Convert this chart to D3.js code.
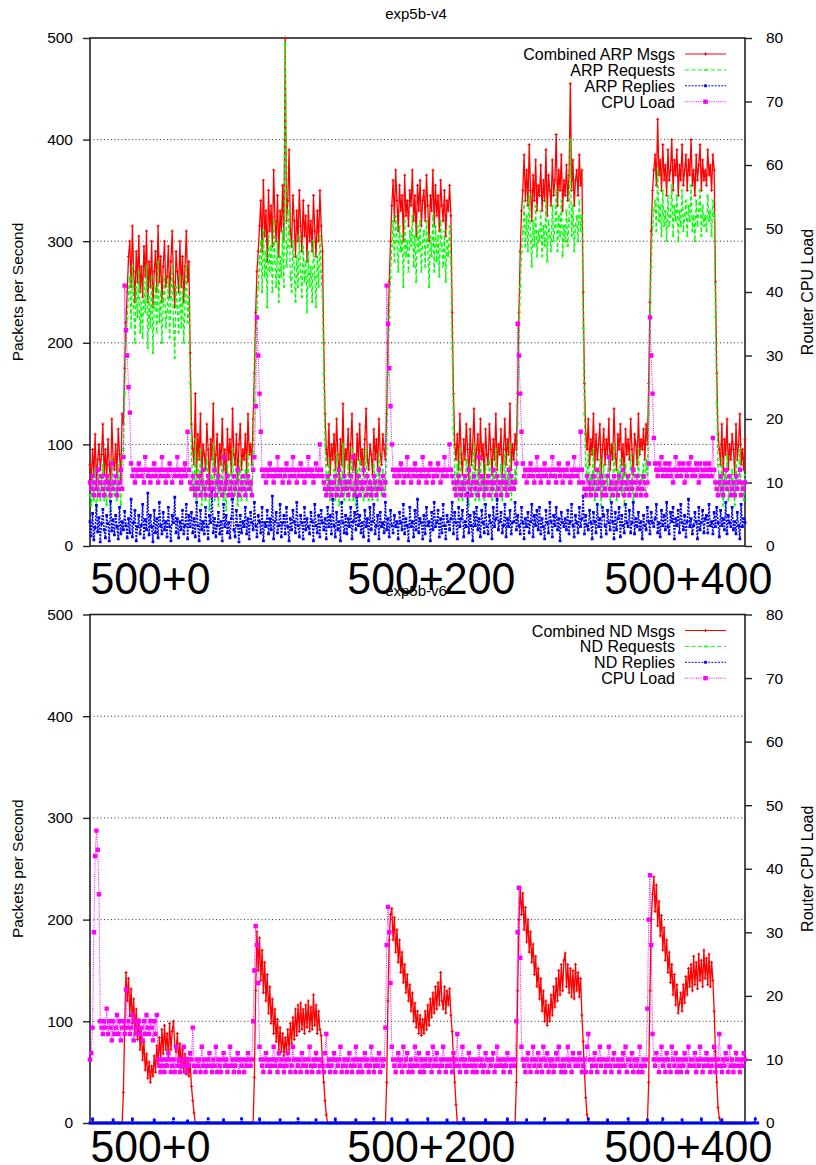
<!DOCTYPE html>
<html><head><meta charset="utf-8">
<script src="https://cdn.jsdelivr.net/npm/d3@7"></script>
<style>body{margin:0;background:#fff}svg{display:block}</style>
</head><body><div id="chart"></div>
<script>
// ---------- data (one sample per second, 0..510) ----------
const xStep = 1;
const xTickValues = [0, 200, 400];
const xTickLabels = ["500+0", "500+200", "500+400"];
const leftTicks = [0, 100, 200, 300, 400, 500];
const rightTicks = [0, 10, 20, 30, 40, 50, 60, 70, 80];
const gridValues = [100, 200, 300, 400];
const titles = ["exp5b-v4", "exp5b-v6"];
const namesV4 = ["Combined ARP Msgs", "ARP Requests", "ARP Replies", "CPU Load"];
const namesV6 = ["Combined ND Msgs", "ND Requests", "ND Replies", "CPU Load"];

const arpCombined = [
80,65,95,70,110,60,85,100,75,90,
120,70,95,65,105,80,60,125,85,75,
100,70,115,90,65,130,120,175,220,250,
285,300,255,315,270,240,290,260,305,250,
275,245,295,265,310,240,280,255,300,235,
270,290,250,315,260,285,240,275,300,255,
265,295,245,280,310,260,235,290,270,250,
300,255,285,240,275,310,260,280,190,120,
95,80,150,70,110,85,130,65,100,90,
75,120,95,60,105,85,140,70,90,110,
65,100,80,125,75,95,60,115,85,105,
70,135,90,80,110,65,100,120,75,95,
85,110,70,130,90,100,80,125,170,230,
270,290,315,340,290,360,305,330,280,350,
310,335,295,370,320,300,345,285,330,310,
355,300,500,320,340,390,310,295,345,320,
285,330,300,350,315,290,340,305,325,280,
335,300,320,290,345,310,285,330,300,350,
315,290,200,130,95,80,120,70,100,85,
110,75,125,90,65,105,80,140,70,95,
85,115,70,100,130,75,90,65,110,85,
120,80,95,70,105,135,85,75,100,90,
70,115,85,105,75,125,90,80,110,95,
85,130,200,260,300,335,360,320,370,340,
310,355,330,345,300,365,325,340,315,350,
335,370,320,345,305,355,330,360,315,340,
350,320,365,335,300,345,330,370,315,355,
325,345,310,360,335,320,350,305,340,330,
355,325,230,150,100,85,110,75,130,90,
70,105,85,120,95,65,115,80,100,135,
75,95,110,70,125,85,100,65,115,90,
80,120,95,70,105,85,130,75,100,90,
115,70,95,125,80,105,90,140,75,100,
85,110,95,150,230,290,330,350,385,340,
370,335,395,350,320,365,340,380,330,355,
345,375,330,360,340,390,325,365,350,335,
380,345,360,405,335,370,350,385,330,360,
345,375,340,365,455,350,380,335,360,370,
345,385,355,370,250,160,110,95,125,80,
105,90,130,75,110,85,100,120,70,95,
115,80,105,90,125,75,100,85,135,90,
75,110,95,120,80,100,70,115,90,105,
85,125,95,70,110,100,80,130,90,105,
95,115,85,120,100,160,240,310,350,370,
385,355,420,365,380,350,395,360,375,345,
390,360,370,400,350,380,365,390,345,375,
360,395,355,370,385,350,380,365,400,355,
370,345,385,360,375,395,350,380,360,370,
355,390,365,375,350,385,370,260,170,110,
95,80,120,70,105,90,125,75,100,85,
110,95,70,120,85,100,130,80,95,75,
105];

const arpRequests = [
50,40,65,45,75,35,55,70,45,60,
80,45,65,40,70,55,35,85,60,50,
65,45,80,60,40,90,95,150,200,225,
250,265,215,275,235,200,255,225,270,210,
240,205,260,230,275,195,245,215,265,190,
235,255,210,280,220,250,200,240,265,215,
230,260,205,245,275,220,185,255,235,210,
265,215,250,200,240,275,220,245,160,90,
60,50,105,45,75,55,95,40,65,60,
45,85,65,35,70,55,100,45,60,75,
40,65,50,90,45,60,35,80,55,70,
45,95,60,50,75,40,65,85,45,60,
55,75,45,90,60,65,50,90,140,200,
235,255,280,300,250,310,265,290,235,305,
270,295,250,320,280,255,300,240,285,265,
310,255,495,275,295,330,265,250,300,275,
240,285,255,305,270,245,295,260,280,230,
290,255,275,240,300,265,235,285,255,305,
270,245,170,100,65,50,85,45,65,55,
75,45,90,60,40,70,50,100,45,65,
55,80,45,65,95,45,60,40,75,55,
85,50,65,45,70,95,55,45,65,60,
45,80,55,70,45,90,60,50,75,65,
55,95,170,225,265,295,320,280,325,300,
270,315,290,305,255,320,285,300,270,310,
295,325,275,305,260,315,290,320,270,300,
310,275,320,295,255,305,285,325,270,315,
280,305,265,320,295,275,310,260,300,285,
315,280,195,115,70,55,80,45,95,60,
45,70,55,85,65,40,80,50,70,100,
45,65,75,45,90,55,70,40,80,60,
50,85,65,45,70,55,95,45,70,60,
80,45,65,90,50,70,60,100,45,70,
55,75,65,120,200,255,290,310,340,295,
325,290,345,305,275,320,295,335,285,310,
300,330,285,315,295,340,280,320,305,290,
335,300,315,350,290,325,305,340,285,315,
300,330,295,320,400,305,335,290,315,325,
300,340,310,325,215,130,80,65,90,50,
70,60,95,45,75,55,65,85,40,60,
80,50,70,60,90,45,65,55,100,60,
45,75,65,85,50,70,40,80,60,70,
55,90,65,45,75,70,50,95,60,70,
65,80,55,85,70,130,210,275,315,330,
340,310,370,320,335,305,350,315,330,300,
345,315,325,355,305,335,320,345,300,330,
315,350,310,325,340,305,335,320,355,310,
325,300,340,315,330,350,305,335,315,325,
310,345,320,330,305,340,325,225,140,80,
60,50,85,40,70,55,90,45,65,55,
75,60,40,85,55,65,95,50,60,45,
70];

const arpReplies = [
24,10,32,6,18,40,14,28,4,22,
36,16,8,30,22,5,44,15,26,11,
30,19,7,38,12,24,16,34,20,8,
27,13,46,9,23,35,5,19,30,12,
20,41,8,26,16,52,11,30,19,4,
35,13,27,8,43,20,12,33,16,24,
9,38,19,5,30,23,48,13,27,8,
24,16,35,12,20,41,7,30,19,33,
13,27,9,43,20,5,35,16,24,12,
38,19,7,30,23,55,13,27,9,20,
33,12,24,5,41,19,30,13,23,8,
27,46,16,9,35,20,4,30,13,24,
19,38,12,27,7,33,23,16,43,20,
9,30,24,13,38,5,23,19,35,12,
27,16,49,7,24,33,13,20,41,9,
23,30,12,38,19,5,27,16,35,24,
13,43,20,9,30,23,7,38,16,27,
19,12,33,24,5,41,20,13,30,9,
35,23,16,27,7,38,19,30,12,46,
20,9,33,16,24,5,43,23,13,30,
12,27,19,38,7,24,33,16,49,20,
30,13,23,9,35,19,27,5,38,16,
24,41,12,20,30,7,33,19,23,13,
43,16,27,9,35,20,13,30,19,24,
7,33,23,16,41,12,27,20,5,38,
19,24,9,35,16,46,13,27,23,7,
30,12,38,20,24,5,33,16,43,19,
23,35,9,27,13,41,20,7,30,24,
16,27,43,12,33,23,7,38,19,27,
35,9,24,19,52,13,30,20,5,33,
20,38,16,27,9,35,23,13,41,19,
12,30,23,7,38,19,27,46,16,24,
33,13,20,41,9,27,19,35,12,23,
24,43,16,30,20,12,38,23,7,27,
19,33,13,24,41,9,30,20,35,16,
38,12,27,19,7,35,23,13,43,24,
9,30,20,38,16,27,5,33,23,19,
27,16,35,12,24,41,20,9,30,23,
13,38,19,27,49,12,30,20,16,35,
23,7,33,24,13,41,19,27,9,38,
30,20,12,35,23,16,43,24,7,33,
16,27,38,9,30,20,13,41,23,19,
35,13,23,43,12,27,19,33,16,24,
7,30,20,16,38,24,12,33,23,19,
27,41,13,23,9,35,20,30,16,43,
19,12,33,24,38,7,27,20,35,13,
41,23,16,30,9,24,46,19,27,12,
20,33,24,7,38,16,23,35,13,27,
30,13,41,20,24,12,33,19,38,23,
9,35,20,27,16,43,12,30,23,19,
38,16,24,12,33,20,7,41,19,27,
23];

const cpuV4 = [
10,9,11,8,10,9,12,8,10,11,
9,8,10,11,9,10,8,13,9,10,
11,8,9,10,12,9,14,41,34,30,
25,21,13,11,12,10,12,11,13,12,
11,12,10,14,12,11,12,10,11,12,
13,11,12,10,12,11,14,12,11,10,
12,11,13,12,10,12,11,12,14,11,
12,10,11,12,13,11,18,12,10,9,
11,9,8,10,9,11,8,10,12,9,
8,10,11,9,8,10,9,12,8,10,
11,9,10,8,14,9,10,11,8,9,
10,8,11,9,10,12,8,9,10,11,
9,8,10,11,9,10,8,12,14,22,
36,30,24,18,12,11,12,10,12,11,
13,12,11,10,12,11,14,12,11,12,
10,12,11,13,12,10,11,12,14,11,
12,10,12,11,13,12,11,10,12,11,
14,12,11,12,10,11,13,12,11,16,
12,11,10,9,8,11,9,10,8,9,
10,11,8,9,12,10,8,9,11,10,
9,8,10,11,9,14,8,10,9,11,
8,10,9,12,10,8,11,9,10,8,
9,11,10,8,9,12,10,9,11,8,
10,41,35,28,22,16,12,11,12,10,
12,11,13,12,10,11,12,14,11,12,
10,12,11,13,12,11,10,12,11,14,
12,11,10,12,11,13,12,10,11,12,
11,13,12,10,12,11,14,12,11,12,
16,12,11,10,9,8,10,11,9,8,
10,9,11,8,10,12,9,8,10,11,
9,10,8,14,9,11,10,8,9,10,
11,8,10,9,12,10,8,11,9,10,
8,10,11,9,10,8,12,9,11,10,
9,10,13,35,30,24,18,13,11,12,
10,12,11,13,12,11,10,12,14,11,
12,10,11,12,13,11,12,10,12,11,
14,12,11,10,12,13,11,12,10,12,
11,12,13,11,10,12,11,14,12,11,
12,10,18,12,10,9,8,11,9,10,
8,9,11,10,8,12,9,10,11,8,
10,9,8,11,14,9,10,8,11,9,
10,8,11,9,10,12,8,10,9,11,
8,10,9,12,10,8,11,9,10,8,
9,11,10,8,10,13,36,30,24,17,
13,12,11,13,12,14,11,12,13,11,
12,13,11,12,10,12,14,11,12,13,
11,12,13,10,12,11,13,12,14,11,
12,11,13,12,10,13,11,12,11,13,
12,11,13,12,11,17,12,10,9,8,
10,11,9,8,10,12,9,10,11,8,
9,10,8,11,9,10,12,8,10,9,
10];

const ndCombined = [
0,0,0,0,0,0,0,0,0,0,
0,0,0,0,0,0,0,0,0,0,
0,0,0,0,0,0,30,95,148,120,
142,105,132,98,122,88,112,82,102,72,
92,62,80,52,68,44,60,40,56,46,
66,50,76,58,84,62,92,68,96,72,
88,64,98,72,90,100,76,70,88,60,
78,54,72,50,68,48,64,46,58,36,
22,10,0,0,0,0,0,0,0,0,
0,0,0,0,0,0,0,0,0,0,
0,0,0,0,0,0,0,0,0,0,
0,0,0,0,0,0,0,0,0,0,
0,0,0,0,0,0,0,0,45,130,
188,150,182,140,170,128,158,120,146,108,
134,98,122,88,112,80,102,72,94,70,
88,66,84,70,92,72,98,78,104,82,
112,86,116,90,118,92,112,88,116,94,
120,90,114,92,126,96,116,88,110,92,
86,60,40,22,8,0,0,0,0,0,
0,0,0,0,0,0,0,0,0,0,
0,0,0,0,0,0,0,0,0,0,
0,0,0,0,0,0,0,0,0,0,
0,0,0,0,0,0,0,0,0,0,
0,40,120,180,205,211,180,202,168,190,
158,180,148,168,138,156,128,146,120,136,
110,128,100,118,94,110,88,106,86,102,
88,110,92,116,96,122,104,128,108,134,
112,138,116,148,120,112,134,108,130,116,
132,106,90,65,40,18,0,0,0,0,
0,0,0,0,0,0,0,0,0,0,
0,0,0,0,0,0,0,0,0,0,
0,0,0,0,0,0,0,0,0,0,
0,0,0,0,0,0,0,0,0,0,
0,0,40,130,200,231,205,226,190,212,
178,200,168,188,158,176,146,164,134,152,
122,142,110,130,100,120,96,116,100,126,
106,134,114,142,120,150,126,156,130,160,
167,134,156,128,152,124,150,122,156,130,
148,124,142,106,80,50,25,8,0,0,
0,0,0,0,0,0,0,0,0,0,
0,0,0,0,0,0,0,0,0,0,
0,0,0,0,0,0,0,0,0,0,
0,0,0,0,0,0,0,0,0,0,
0,0,0,0,0,40,130,200,225,242,
208,234,194,218,184,204,170,192,160,180,
148,168,138,156,126,146,116,136,108,118,
128,110,136,118,144,126,152,134,156,130,
164,136,158,132,166,140,160,134,170,142,
162,136,166,134,158,140,110,70,40,15,
5,0,0,0,0,0,0,0,0,0,
0,0,0,0,0,0,0,0,0,0,
0];

const ndRequests = [
0,0,0,0,0,0,0,0,0,0,0,0,0,0,0,0,0,0,0,0,
0,0,0,0,0,0,0,0,0,0,0,0,0,0,0,0,0,0,0,0,
0,0,0,0,0,0,0,0,0,0,0,0,0,0,0,0,0,0,0,0,
0,0,0,0,0,0,0,0,0,0,0,0,0,0,0,0,0,0,0,0,
0,0,0,0,0,0,0,0,0,0,0,0,0,0,0,0,0,0,0,0,
0,0,0,0,0,0,0,0,0,0,0,0,0,0,0,0,0,0,0,0,
0,0,0,0,0,0,0,0,0,0,0,0,0,0,0,0,0,0,0,0,
0,0,0,0,0,0,0,0,0,0,0,0,0,0,0,0,0,0,0,0,
0,0,0,0,0,0,0,0,0,0,0,0,0,0,0,0,0,0,0,0,
0,0,0,0,0,0,0,0,0,0,0,0,0,0,0,0,0,0,0,0,
0,0,0,0,0,0,0,0,0,0,0,0,0,0,0,0,0,0,0,0,
0,0,0,0,0,0,0,0,0,0,0,0,0,0,0,0,0,0,0,0,
0,0,0,0,0,0,0,0,0,0,0,0,0,0,0,0,0,0,0,0,
0,0,0,0,0,0,0,0,0,0,0,0,0,0,0,0,0,0,0,0,
0,0,0,0,0,0,0,0,0,0,0,0,0,0,0,0,0,0,0,0,
0,0,0,0,0,0,0,0,0,0,0,0,0,0,0,0,0,0,0,0,
0,0,0,0,0,0,0,0,0,0,0,0,0,0,0,0,0,0,0,0,
0,0,0,0,0,0,0,0,0,0,0,0,0,0,0,0,0,0,0,0,
0,0,0,0,0,0,0,0,0,0,0,0,0,0,0,0,0,0,0,0,
0,0,0,0,0,0,0,0,0,0,0,0,0,0,0,0,0,0,0,0,
0,0,0,0,0,0,0,0,0,0,0,0,0,0,0,0,0,0,0,0,
0,0,0,0,0,0,0,0,0,0,0,0,0,0,0,0,0,0,0,0,
0,0,0,0,0,0,0,0,0,0,0,0,0,0,0,0,0,0,0,0,
0,0,0,0,0,0,0,0,0,0,0,0,0,0,0,0,0,0,0,0,
0,0,0,0,0,0,0,0,0,0,0,0,0,0,0,0,0,0,0,0,
0,0,0,0,0,0,0,0,0,0,0];

const ndReplies = [
0,0,4,0,0,0,0,0,0,0, 0,0,0,0,0,0,0,0,3,0,
0,0,0,0,0,0,0,0,0,0, 0,0,0,4,0,0,0,0,0,0,
0,0,0,0,0,0,0,0,0,0, 3,0,0,0,0,0,0,0,0,0,
0,0,0,0,0,4,0,0,0,0, 0,0,0,0,0,0,2,0,0,0,
0,0,0,0,0,0,0,0,0,0, 0,0,4,0,0,0,0,0,0,0,
0,0,0,0,3,0,0,0,0,0, 0,0,0,0,0,0,0,0,4,0,
0,0,0,0,0,0,0,0,0,0, 0,0,4,0,0,0,0,0,0,0,
0,0,0,0,0,0,0,0,3,0, 0,0,0,0,0,0,0,0,0,0,
0,0,4,0,0,0,0,0,0,0, 0,0,0,0,0,0,3,0,0,0,
0,0,0,0,0,0,0,0,0,0, 0,4,0,0,0,0,0,0,0,0,
0,0,0,0,0,0,0,3,0,0, 0,0,0,0,0,0,0,0,0,0,
0,4,0,0,0,0,0,0,0,0, 0,0,0,0,0,4,0,0,0,0,
0,0,0,0,0,0,0,3,0,0, 0,0,0,0,0,0,0,0,0,0,
0,0,0,4,0,0,0,0,0,0, 0,0,0,0,0,0,0,0,3,0,
0,0,0,0,0,0,0,0,0,0, 0,4,0,0,0,0,0,0,0,0,
0,0,0,0,0,0,0,0,3,0, 0,0,0,0,0,0,0,0,0,0,
0,0,0,0,0,4,0,0,0,0, 0,0,0,0,0,0,0,0,0,0,
3,0,0,0,0,0,0,0,0,0, 0,0,0,0,4,0,0,0,0,0,
0,0,0,0,0,0,0,0,0,0, 0,0,3,0,0,0,0,0,0,0,
0,0,0,0,0,0,0,0,4,0, 0,0,0,0,0,0,0,0,0,0,
0,0,0,3,0,0,0,0,0,0, 0,0,0,0,0,0,0,0,0,4,
0,0,0,0,0,0,0,0,0,0, 0,0,0,0,3,0,0,0,0,0,
0,0,0,0,0,0,4,0,0,0, 0,0,0,0,0,0,0,0,0,0,
0,3,0,0,0,0,0,0,0,0, 0,0,0,0,0,0,4,0,0,0,
0,0,0,0,0,0,0,0,0,0, 0,0,3,0,0,0,0,0,0,0,
0,0,0,0,0,0,0,0,0,0, 0,0,0,0,0,0,0,0,4,0,
0];

const cpuV6 = [
10,11,15,30,42,46,43,36,16,15,
14,16,15,18,14,16,15,13,16,14,
15,17,14,16,13,15,16,14,21,15,
16,14,15,17,13,16,14,15,16,14,
15,13,16,14,17,15,14,16,15,13,
16,14,17,10,9,8,10,9,8,10,
9,11,10,8,9,10,8,12,9,10,
8,9,10,12,9,8,10,9,11,10,
15,9,8,10,9,10,8,12,9,10,
8,9,10,11,9,8,10,9,12,8,
10,9,8,10,11,9,10,8,9,12,
9,10,8,9,10,11,8,10,9,10,
8,10,9,11,10,9,10,16,24,31,
28,22,12,10,9,8,10,11,9,10,
8,9,10,12,9,10,8,11,9,10,
9,8,10,9,11,10,8,9,12,10,
8,10,9,10,8,11,9,10,9,8,
10,12,9,8,10,9,11,10,8,9,
10,9,8,11,14,9,10,8,9,10,
11,8,10,9,10,12,8,9,10,9,
8,10,11,9,8,10,9,12,10,8,
9,10,8,10,11,9,10,8,9,12,
10,8,9,10,9,11,8,10,9,10,
15,28,34,30,22,12,10,9,8,10,
11,9,10,8,12,9,10,11,8,9,
10,8,9,12,10,9,11,8,10,9,
8,10,9,11,9,10,8,12,9,10,
11,9,8,10,9,12,10,8,9,10,
9,10,8,11,9,10,14,9,8,10,
12,9,10,8,9,11,10,9,8,10,
9,8,10,12,9,10,8,9,11,10,
8,10,9,10,11,8,9,12,10,9,
10,9,8,10,9,11,10,8,9,10,
9,10,16,30,37,26,12,10,9,8,
10,11,9,8,10,12,9,10,8,11,
9,10,8,12,10,9,11,8,10,9,
10,8,9,11,10,12,9,8,10,9,
8,10,12,9,10,8,11,10,9,10,
9,11,10,8,9,10,8,12,14,10,
8,9,10,11,9,8,10,12,9,10,
10,8,9,10,12,9,8,10,11,9,
9,10,8,9,10,11,9,12,8,10,
10,9,11,8,10,9,10,8,12,9,
8,10,9,10,18,32,39,28,14,10,
9,11,10,8,10,12,9,10,8,11,
10,9,8,12,10,9,11,8,10,9,
8,10,9,11,10,8,12,9,10,10,
9,11,8,10,9,12,10,8,9,10,
11,9,10,8,9,10,12,8,9,10,
14,9,8,10,9,11,10,8,12,9,
10,8,9,11,10,9,8,10,9,11,
10];

// ---------- layout / style ----------
const W = 816, H = 1165;
const left = 90, right = 745;
const FONT = "'Liberation Sans', Arial, Helvetica, sans-serif";
const styles = [
  {color: "#ff0000", dash: null, width: 1.3, marker: "plus", axis: "left"},
  {color: "#00ff00", dash: "4,2.5", width: 1.3, marker: "cross", axis: "left"},
  {color: "#0000ff", dash: "2,1.3", width: 1.5, marker: "dot", axis: "left"},
  {color: "#ff00ff", dash: "1,1.2", width: 1, marker: "square", axis: "right"}
];
const panels = [
  {title: titles[0], top: 38, bottom: 546, names: namesV4, values: [arpCombined, arpRequests, arpReplies, cpuV4], xLabelY: 594},
  {title: titles[1], top: 614.5, bottom: 1123, names: namesV6, values: [ndCombined, ndRequests, ndReplies, cpuV6], xLabelY: 1162}
];

const svg = d3.select("#chart").append("svg")
  .attr("width", W).attr("height", H)
  .attr("font-family", FONT);
svg.append("rect").attr("width", W).attr("height", H).attr("fill", "#fff");

const x = d3.scaleLinear().domain([0, 510]).range([left, right]);

function markerPath(pts, type) {
  let d = "";
  if (type === "plus") {
    pts.forEach(([px, py]) => { d += `M${px - 1.5},${py}h3M${px},${py - 1.5}v3`; });
  } else if (type === "cross") {
    pts.forEach(([px, py]) => { d += `M${px - 1.2},${py - 1.2}l2.4,2.4M${px - 1.2},${py + 1.2}l2.4,-2.4`; });
  } else if (type === "dot") {
    pts.forEach(([px, py]) => { d += `M${px - 1.4},${py - 1.4}h2.8v2.8h-2.8z`; });
  } else {
    pts.forEach(([px, py]) => { d += `M${px - 2.2},${py - 2.2}h4.4v4.4h-4.4z`; });
  }
  return d;
}

panels.forEach(p => {
  const yL = d3.scaleLinear().domain([0, 500]).range([p.bottom, p.top]);
  const yR = d3.scaleLinear().domain([0, 80]).range([p.bottom, p.top]);
  const g = svg.append("g");

  // grid
  g.append("g").selectAll("line").data(gridValues).join("line")
    .attr("x1", left).attr("x2", right)
    .attr("y1", d => yL(d)).attr("y2", d => yL(d))
    .attr("stroke", "#333").attr("stroke-width", 1).attr("stroke-dasharray", "1,2.5");

  // border
  g.append("rect").attr("x", left).attr("y", p.top)
    .attr("width", right - left).attr("height", p.bottom - p.top)
    .attr("fill", "none").attr("stroke", "#222").attr("stroke-width", 1.6);

  // axes
  const axL = g.append("g").attr("transform", `translate(${left},0)`)
    .call(d3.axisLeft(yL).tickValues(leftTicks).tickSize(7).tickPadding(10));
  const axR = g.append("g").attr("transform", `translate(${right},0)`)
    .call(d3.axisRight(yR).tickValues(rightTicks).tickSize(7).tickPadding(14));
  [axL, axR].forEach(a => {
    a.select(".domain").remove();
    a.selectAll(".tick line").attr("stroke", "#222").attr("stroke-width", 1.4);
    a.selectAll(".tick text").attr("font-size", 15.5).attr("font-family", FONT).attr("fill", "#000");
  });

  // x axis labels
  const axB = g.append("g").attr("transform", `translate(0,${p.xLabelY})`)
    .call(d3.axisBottom(x).tickValues(xTickValues).tickFormat((d, i) => xTickLabels[i]).tickSize(0).tickPadding(0));
  axB.select(".domain").remove();
  axB.selectAll(".tick text")
    .attr("y", 0).attr("dy", 0)
    .attr("text-anchor", "start")
    .attr("font-family", FONT).attr("font-size", 44).attr("fill", "#000")
    .attr("textLength", (d, i) => xTickLabels[i].length * 24)
    .attr("lengthAdjust", "spacingAndGlyphs");

  // series
  p.values.forEach((vals, k) => {
    const s = styles[k];
    const ys = s.axis === "right" ? yR : yL;
    const line = d3.line().x((d, i) => x(i * xStep)).y(d => ys(d));
    g.append("path").datum(vals).attr("d", line)
      .attr("fill", "none").attr("stroke", s.color).attr("stroke-width", s.width)
      .attr("stroke-dasharray", s.dash);
    const pts = vals.map((v, i) => [x(i * xStep), ys(v)]);
    const mp = g.append("path").attr("d", markerPath(pts, s.marker));
    if (s.marker === "plus" || s.marker === "cross") mp.attr("fill", "none").attr("stroke", s.color).attr("stroke-width", 1);
    else mp.attr("fill", s.color).attr("stroke", "none");
  });

  // legend
  p.names.forEach((name, k) => {
    const s = styles[k];
    const ly = p.top + 16 + 15.9 * k;
    g.append("text").attr("x", 675).attr("y", ly + 6).attr("text-anchor", "end")
      .attr("font-size", 16).attr("fill", "#000").text(name);
    g.append("line").attr("x1", 685).attr("x2", 726).attr("y1", ly).attr("y2", ly)
      .attr("stroke", s.color).attr("stroke-width", 1).attr("stroke-dasharray", s.dash);
    const mp = g.append("path").attr("d", markerPath([[705.5, ly]], s.marker));
    if (s.marker === "plus" || s.marker === "cross") mp.attr("fill", "none").attr("stroke", s.color).attr("stroke-width", 1);
    else mp.attr("fill", s.color);
  });

  // title
  g.append("text").attr("x", 416).attr("y", p.top - 19).attr("text-anchor", "middle")
    .attr("font-size", 15).attr("fill", "#000").text(p.title);

  // axis titles
  const cy = (p.top + p.bottom) / 2;
  g.append("text").attr("transform", `translate(23,${cy}) rotate(-90)`)
    .attr("text-anchor", "middle").attr("font-size", 15.5).attr("fill", "#000").text("Packets per Second");
  g.append("text").attr("transform", `translate(813,${cy}) rotate(-90)`)
    .attr("text-anchor", "middle").attr("font-size", 16).attr("fill", "#000").text("Router CPU Load");
});
</script>
</body></html>
